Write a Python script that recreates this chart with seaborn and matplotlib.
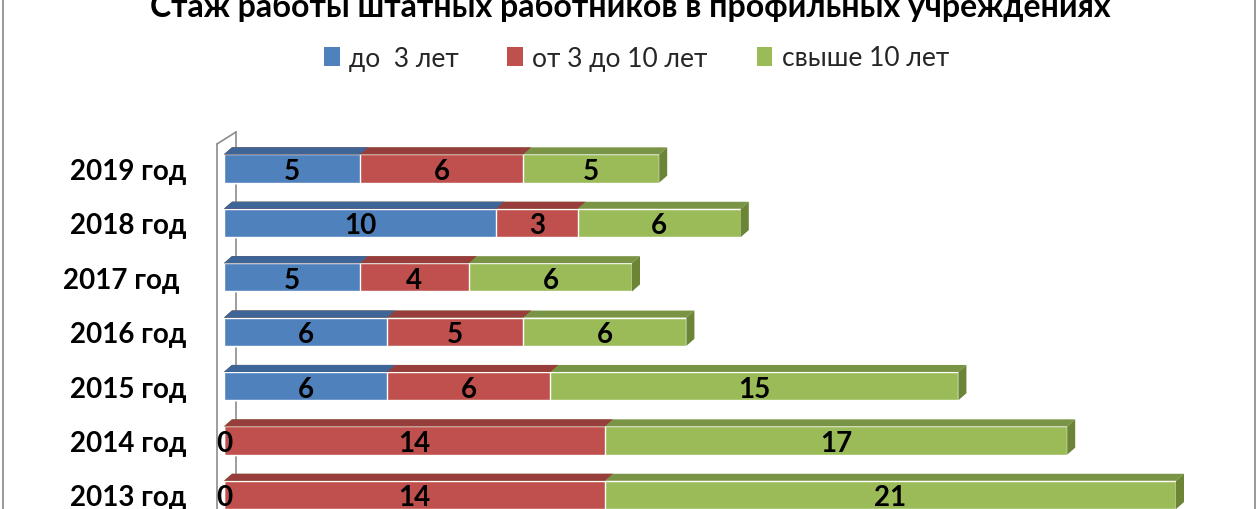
import numpy as np
import pandas as pd
import matplotlib
matplotlib.use("Agg")
import matplotlib.pyplot as plt
import seaborn as sns
from matplotlib.patches import Polygon, Rectangle
from matplotlib.lines import Line2D

# data, top row first
years = ["2019 год", "2018 год", "2017 год ", "2016 год", "2015 год", "2014 год", "2013 год"]
under_3 = [5, 10, 5, 6, 6, 0, 0]
from_3_to_10 = [6, 3, 4, 5, 6, 14, 14]
over_10 = [5, 6, 6, 6, 15, 17, 21]

series_names = ["до  3 лет", "от 3 до 10 лет", "свыше 10 лет"]
title = "Стаж работы штатных работников в профильных учреждениях"

colors = ["#4F81BD", "#C0504D", "#9BBB59"]
top_colors = ["#3D6597", "#973E3C", "#7A9445"]
side_color = "#6B8436"

sns.set_theme(style="white")
fonts = ["Lato", "DejaVu Sans"]
plt.rcParams["font.family"] = fonts

df = pd.DataFrame({"year": years, "a": under_3, "b": from_3_to_10, "c": over_10})
df["ab"] = df["a"] + df["b"]
df["abc"] = df["ab"] + df["c"]

W, H = 1260, 510
fig = plt.figure(figsize=(12.6, 5.1), dpi=100)
px = 27.2            # pixels per unit on x
step = 54.4          # pixels between rows
row0 = 169.5         # pixel y of first row centre
ax_top = 130
ax = fig.add_axes([224 / W, 0, 37 * px / W, (H - ax_top) / H])

# cumulative bars, largest first so the shorter ones sit on top
bar_w = 0.52
for col, c in zip(["abc", "ab", "a"], colors[::-1]):
    sns.barplot(data=df, x=col, y="year", color=c, saturation=1,
                width=bar_w, orient="h", errorbar=None, ax=ax, zorder=3)

ax.set_xlim(0, 37)
ax.set_ylim((H - row0) / step, (ax_top - row0) / step)

# fake 3D depth: top face for every segment, side face at the end
DX = 8 / px
DY = 7 / step
n = len(years)
for k, p in enumerate(list(ax.patches)):
    s = 2 - k // n
    x0, yt, w, h = p.get_x(), p.get_y(), p.get_width(), p.get_height()
    ax.add_patch(Polygon([(x0, yt), (x0 + w, yt), (x0 + w + DX, yt - DY), (x0 + DX, yt - DY)],
                         closed=True, facecolor=top_colors[s], edgecolor="none", zorder=3))
    if s == 2:
        x1 = x0 + w
        ax.add_patch(Polygon([(x1, yt), (x1 + DX, yt - DY), (x1 + DX, yt + h - DY), (x1, yt + h)],
                             closed=True, facecolor=side_color, edgecolor="none", zorder=3))

for i in range(n):
    starts = [0, df["a"][i], df["ab"][i]]
    vals = [df["a"][i], df["b"][i], df["c"][i]]
    for st, v in zip(starts, vals):
        ax.text(st + v / 2, i, str(v), ha="center", va="center_baseline",
                fontsize=20, fontweight="bold", color="black", zorder=5)

# back wall
ax.plot([-7 / px, -7 / px], [(H - row0) / step, (145 - row0) / step],
        color="#8C8C8C", lw=1.2, clip_on=False, zorder=4)
ax.plot([-7 / px, 12 / px], [(145 - row0) / step, (133 - row0) / step],
        color="#8C8C8C", lw=1.2, clip_on=False, zorder=4)
ax.plot([12 / px, 12 / px], [(133 - row0) / step, (H - row0) / step],
        color="#8C8C8C", lw=1.2, clip_on=False, zorder=1)

ax.set_xlabel("")
ax.set_ylabel("")
ax.set_xticks([])
ax.tick_params(axis="y", length=0, pad=27, labelsize=20, labelcolor="black")
for lab in ax.get_yticklabels():
    lab.set_fontweight("bold")
for sp in ax.spines.values():
    sp.set_visible(False)
ax.patch.set_alpha(0)

fig.text(0.5, 1 - 17 / H, title, ha="center", va="baseline",
         fontsize=23, fontweight="bold", color="black")

handles = [Rectangle((0, 0), 1, 1, facecolor=c, edgecolor="none") for c in colors]
fig.legend(handles, series_names, loc="center", bbox_to_anchor=(0.505, 1 - 59 / H),
           ncol=3, frameon=False, handlelength=0.6, handleheight=0.75,
           handletextpad=0.35, columnspacing=1.85, prop={"size": 19})

# chart border
for xb in (3, 1255):
    fig.add_artist(Line2D([xb / W, xb / W], [0, 1], color="#868686", lw=1.2))

fig.savefig("out.png", dpi=100)
